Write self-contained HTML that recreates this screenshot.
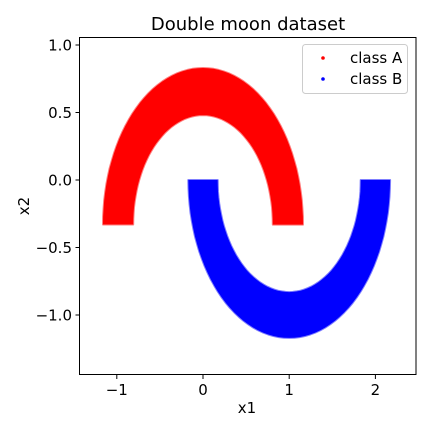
<!DOCTYPE html>
<html><head><meta charset="utf-8"><style>
body{margin:0;background:#fff}
svg text{font-family:"DejaVu Sans","Liberation Sans",sans-serif;fill:#000}
</style></head><body>
<svg id="chart" width="432" height="432" viewBox="0 0 432 432" xmlns="http://www.w3.org/2000/svg">
<rect width="432" height="432" fill="#fff"/>
<text x="248" y="30" font-size="18" text-anchor="middle">Double moon dataset</text>
<g id="marks"></g>
<rect x="79.5" y="37.5" width="336.5" height="337" fill="none" stroke="#000" stroke-width="1"/>
<g id="axes"></g>
<text x="247" y="413" font-size="15" text-anchor="middle">x1</text>
<text x="29" y="206" font-size="15" text-anchor="middle" transform="rotate(-90 29 206)">x2</text>
<g>
<rect x="302.5" y="44.5" width="105" height="49" rx="3" fill="#fff" fill-opacity="0.8" stroke="#ccc"/>
<circle cx="323" cy="58" r="1.8" fill="#f00"/>
<text x="350" y="63" font-size="15">class A</text>
<circle cx="323" cy="79" r="1.8" fill="#00f"/>
<text x="350" y="84" font-size="15">class B</text>
</g>
</svg>
<script>
const classNames=["class A","class B"];
const classColors=["#ff0000","#0000ff"];
const centerX=[0,1];
const centerY=[-0.33,0];
const innerRadius=[0.81,0.83];
const outerRadius=[1.16,1.17];
const startAngleDeg=[0,180];
const endAngleDeg=[180,360];
const xTicks=[-1,0,1,2];
const yTicks=[1.0,0.5,0.0,-0.5,-1.0];
const xTickLabels=["\u22121","0","1","2"];
const yTickLabels=["1.0","0.5","0.0","\u22120.5","\u22121.0"];

const X0=203,XS=86.2,Y0=180,YS=135;
function sx(v){return X0+v*XS;}
function sy(v){return Y0-v*YS;}
const NS="http://www.w3.org/2000/svg";
const marks=document.getElementById('marks');
for(let c=0;c<classNames.length;c++){
  const pts=[];
  const a0=startAngleDeg[c]*Math.PI/180,a1=endAngleDeg[c]*Math.PI/180;
  const n=60;
  for(let i=0;i<=n;i++){const t=a0+(a1-a0)*i/n;pts.push(sx(centerX[c]+outerRadius[c]*Math.cos(t)).toFixed(1)+","+sy(centerY[c]+outerRadius[c]*Math.sin(t)).toFixed(1));}
  for(let i=n;i>=0;i--){const t=a0+(a1-a0)*i/n;pts.push(sx(centerX[c]+innerRadius[c]*Math.cos(t)).toFixed(1)+","+sy(centerY[c]+innerRadius[c]*Math.sin(t)).toFixed(1));}
  const p=document.createElementNS(NS,'polygon');
  
  
  p.setAttribute('points',pts.join(' '));
  p.setAttribute('fill',classColors[c]);
  p.setAttribute('stroke',classColors[c]);
  p.setAttribute('stroke-width','2');
  p.setAttribute('stroke-opacity','0.5');
  p.setAttribute('stroke-linejoin','round');
  marks.appendChild(p);
}
const axes=document.getElementById('axes');
xTicks.forEach((v,i)=>{
  const l=document.createElementNS(NS,'line');
  
  
  l.setAttribute('x1',sx(v));l.setAttribute('x2',sx(v));l.setAttribute('y1',375);l.setAttribute('y2',379);l.setAttribute('stroke','#000');
  axes.appendChild(l);
  const t=document.createElementNS(NS,'text');
  
  
  t.setAttribute('x',sx(v));t.setAttribute('y',395);t.setAttribute('font-size','15');t.setAttribute('text-anchor','middle');
  t.textContent=xTickLabels[i];axes.appendChild(t);
});
yTicks.forEach((v,i)=>{
  const l=document.createElementNS(NS,'line');
  
  
  l.setAttribute('x1',75.5);l.setAttribute('x2',79.5);l.setAttribute('y1',sy(v));l.setAttribute('y2',sy(v));l.setAttribute('stroke','#000');
  axes.appendChild(l);
  const t=document.createElementNS(NS,'text');
  
  
  t.setAttribute('x',72);t.setAttribute('y',sy(v)+5.5);t.setAttribute('font-size','15');t.setAttribute('text-anchor','end');
  t.textContent=yTickLabels[i];axes.appendChild(t);
});
</script>
</body></html>
